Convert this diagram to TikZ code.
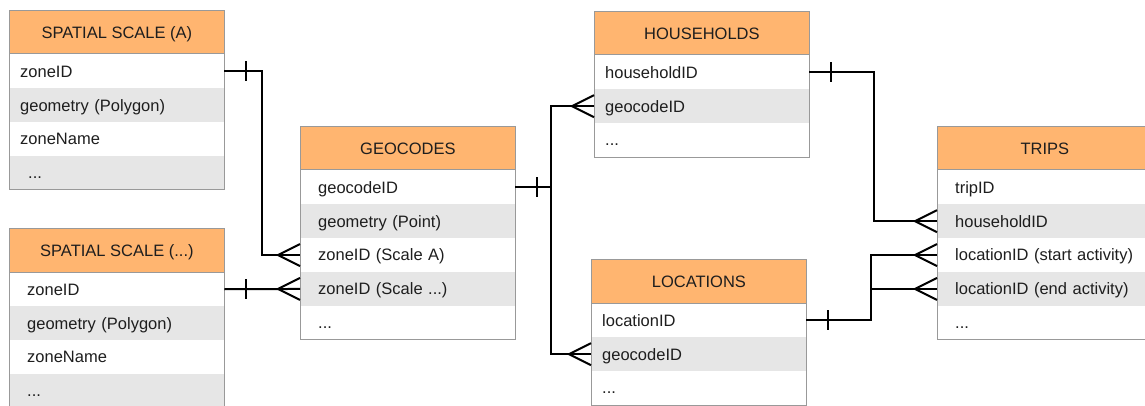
\documentclass[tikz,border=0pt]{standalone}
\usepackage{fontspec}
\setmainfont{Liberation Sans}
\usetikzlibrary{calc}
\definecolor{hdrorange}{HTML}{FFB570}
\definecolor{rowgray}{HTML}{E6E6E6}
\definecolor{bordergray}{HTML}{999999}
\definecolor{txt}{HTML}{1E1E1E}
\tikzset{
  hdr/.style={fill=hdrorange, draw=bordergray, line width=0.8pt, minimum width=215pt,
    minimum height=43.5pt, inner sep=0pt, anchor=north west, text=txt,
    font=\fontsize{16.5}{19}\selectfont, text height=11.8pt, text depth=0pt},
  fieldrow/.style={inner ysep=0pt, inner xsep=#1, align=left, minimum height=33.5pt,
    anchor=north west, text=txt, font=\fontsize{16.5}{19}\selectfont,
    text height=11.8pt, text depth=0pt},
  tableborder/.style={draw=bordergray, line width=0.8pt},
  conn/.style={draw=black, line width=2pt},
}
\newcommand\erdots{...}
\newcommand\ertable[6]{%
  \node[hdr] (#1-0) at (#2,#3) {#4};
  \pgfmathsetlengthmacro\ertw{215pt-2*#5}
  \foreach \rtext [count=\i] in {#6} {
    \pgfmathtruncatemacro\j{\i-1}
    \ifodd\i \def\rf{white}\else\def\rf{rowgray}\fi
    \node[fieldrow=#5, text width=\ertw, fill=\rf] (#1-\i) at (#1-\j.south west) {\rtext};
    \xdef\erlast{\i}
  }
  \draw[tableborder] (#1-0.north west) rectangle (#1-\erlast.south east);
}
\newcommand\crowfoot[1]{\draw[conn] ($(#1.west)+(0,-11)$) -- ($(#1.west)+(-22,0)$) -- ($(#1.west)+(0,11)$);}
\newcommand\onebar[1]{\draw[conn] ($(#1.east)+(22,-10)$) -- ($(#1.east)+(22,10)$);}
\begin{document}
\begin{tikzpicture}[x=1pt,y=-1pt]
\useasboundingbox (0,0) rectangle (1145,406);
\fill[white] (0,0) rectangle (1145,406);
\ertable{sa}{9}{10}{SPATIAL SCALE (A)}{11pt}{{zoneID},{geometry (Polygon)},{zoneName},{\hspace{8pt}\erdots}}
\ertable{ss}{9}{228}{SPATIAL SCALE (...)}{18pt}{{zoneID},{geometry (Polygon)},{zoneName},{\erdots}}
\ertable{g}{300}{126}{GEOCODES}{18pt}{{geocodeID},{geometry (Point)},{zoneID (Scale A)},{zoneID (Scale \erdots)},{\erdots}}
\ertable{h}{594}{11}{HOUSEHOLDS}{11pt}{{householdID},{geocodeID},{\erdots}}
\ertable{l}{591}{259}{LOCATIONS}{11pt}{{locationID},{geocodeID},{\erdots}}
\ertable{t}{937}{126}{TRIPS}{18pt}{{tripID},{householdID},{locationID (start activity)},{locationID (end activity)},{\erdots}}
% connectors
\draw[conn] (sa-1.east) -- ++(38,0) |- (g-3.west);
\onebar{sa-1}\crowfoot{g-3}
\draw[conn] (ss-1.east) -- (g-4.west);
\onebar{ss-1}\crowfoot{g-4}
\draw[conn] (g-1.east) -- ++(36,0);
\draw[conn] (h-2.west) -- ++(-43,0) |- (l-2.west);
\onebar{g-1}\crowfoot{h-2}\crowfoot{l-2}
\draw[conn] (h-1.east) -- ++(65,0) |- (t-2.west);
\onebar{h-1}\crowfoot{t-2}
\draw[conn] (l-1.east) -- ++(65,0) coordinate (lj) |- (t-3.west);
\draw[conn] (lj) |- (t-4.west);
\onebar{l-1}\crowfoot{t-3}\crowfoot{t-4}
\end{tikzpicture}
\end{document}
